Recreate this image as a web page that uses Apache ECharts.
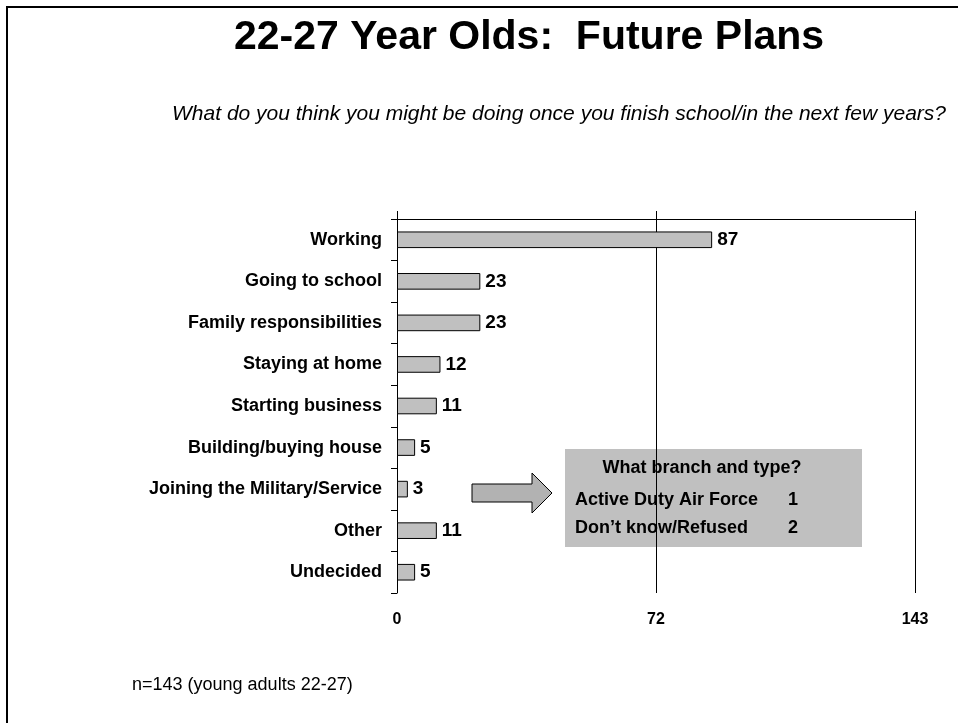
<!DOCTYPE html>
<html>
<head>
<meta charset="utf-8">
<script src="https://cdn.jsdelivr.net/npm/echarts@6/dist/echarts.min.js"></script>
<style>
  html, body { margin: 0; padding: 0; background: #fff; }
  #main { width: 958px; height: 723px; }
</style>
</head>
<body>
<div id="main"></div>
<script>
// 数据
const categories = ['Working', 'Going to school', 'Family responsibilities', 'Staying at home',
    'Starting business', 'Building/buying house', 'Joining the Military/Service', 'Other', 'Undecided'];
const counts = [87, 23, 23, 12, 11, 5, 3, 11, 5];
const tickLabels = ['0', '72', '143'];
const branchRows = [['Active Duty Air Force', '1'], ['Don\u2019t know/Refused', '2']];

const font = 'Arial, "Liberation Sans", sans-serif';
const chart = echarts.init(document.getElementById('main'));

// 右侧说明框文字
const boxTexts = [{
    type: 'text', x: 702, y: 468, silent: true,
    style: { text: 'What branch and type?', font: 'bold 18px ' + font, fill: '#000',
        align: 'center', verticalAlign: 'middle' }
}];
branchRows.forEach(function (row, i) {
    boxTexts.push({
        type: 'text', x: 575, y: 500 + i * 28, silent: true,
        style: { text: row[0], font: 'bold 18px ' + font, fill: '#000', verticalAlign: 'middle' }
    });
    boxTexts.push({
        type: 'text', x: 788, y: 500 + i * 28, silent: true,
        style: { text: row[1], font: 'bold 18px ' + font, fill: '#000', verticalAlign: 'middle' }
    });
});

const option = {
    animation: false,
    backgroundColor: '#fff',
    title: [{
        text: '22-27 Year Olds:  Future Plans',
        left: 229, top: 12,
        textStyle: { fontFamily: font, fontSize: 41, fontWeight: 'bold', color: '#000' }
    }, {
        text: 'What do you think you might be doing once you finish school/in the next few years?',
        right: 7, top: 99,
        textStyle: { fontFamily: font, fontSize: 21, fontStyle: 'italic', fontWeight: 'normal', color: '#000' }
    }, {
        text: 'n=143 (young adults 22-27)',
        left: 127, top: 671,
        textStyle: { fontFamily: font, fontSize: 18, fontWeight: 'normal', color: '#000' }
    }],
    grid: { left: 397, right: 43, top: 219, bottom: 130 },
    xAxis: [{
        type: 'value', position: 'top', min: 0, max: 143, interval: 71.5,
        axisLine: { show: true, lineStyle: { color: '#000', width: 1 } },
        axisTick: { show: true, length: 8, lineStyle: { color: '#000' } },
        axisLabel: { show: false },
        splitLine: { show: true, lineStyle: { color: '#000', width: 1 } }
    }, {
        type: 'value', position: 'bottom', min: 0, max: 143, interval: 71.5,
        axisLine: { show: false }, axisTick: { show: false }, splitLine: { show: false },
        axisLabel: {
            margin: 19, fontFamily: font, fontSize: 16, fontWeight: 'bold', color: '#000',
            formatter: function (v) { return tickLabels[Math.round(v / 71.5)]; }
        }
    }],
    yAxis: {
        type: 'category', data: categories, inverse: true,
        axisLine: { show: true, lineStyle: { color: '#000', width: 1 } },
        axisTick: { show: true, length: 6, lineStyle: { color: '#000' } },
        axisLabel: { margin: 15, fontFamily: font, fontSize: 18, fontWeight: 'bold', color: '#000' }
    },
    series: [{
        type: 'bar', data: counts, barWidth: '40%',
        itemStyle: { color: '#c0c0c0', borderColor: '#000', borderWidth: 1 },
        label: {
            show: true, position: 'right', distance: 5,
            fontFamily: font, fontSize: 19, fontWeight: 'bold', color: '#000'
        }
    }],
    graphic: [{
        type: 'rect', silent: true,
        shape: { x: 7, y: 7, width: 1000, height: 1000 },
        style: { fill: 'none', stroke: '#000', lineWidth: 2 }
    }, {
        type: 'polygon', silent: true,
        shape: { points: [[472, 484], [532, 484], [532, 473], [552, 493], [532, 513], [532, 502], [472, 502]] },
        style: { fill: '#b2b2b2', stroke: '#000', lineWidth: 1 }
    }, {
        type: 'rect', silent: true,
        shape: { x: 565, y: 449, width: 297, height: 98 },
        style: { fill: '#c0c0c0' }
    }].concat(boxTexts)
};
chart.setOption(option);
</script>
</body>
</html>
